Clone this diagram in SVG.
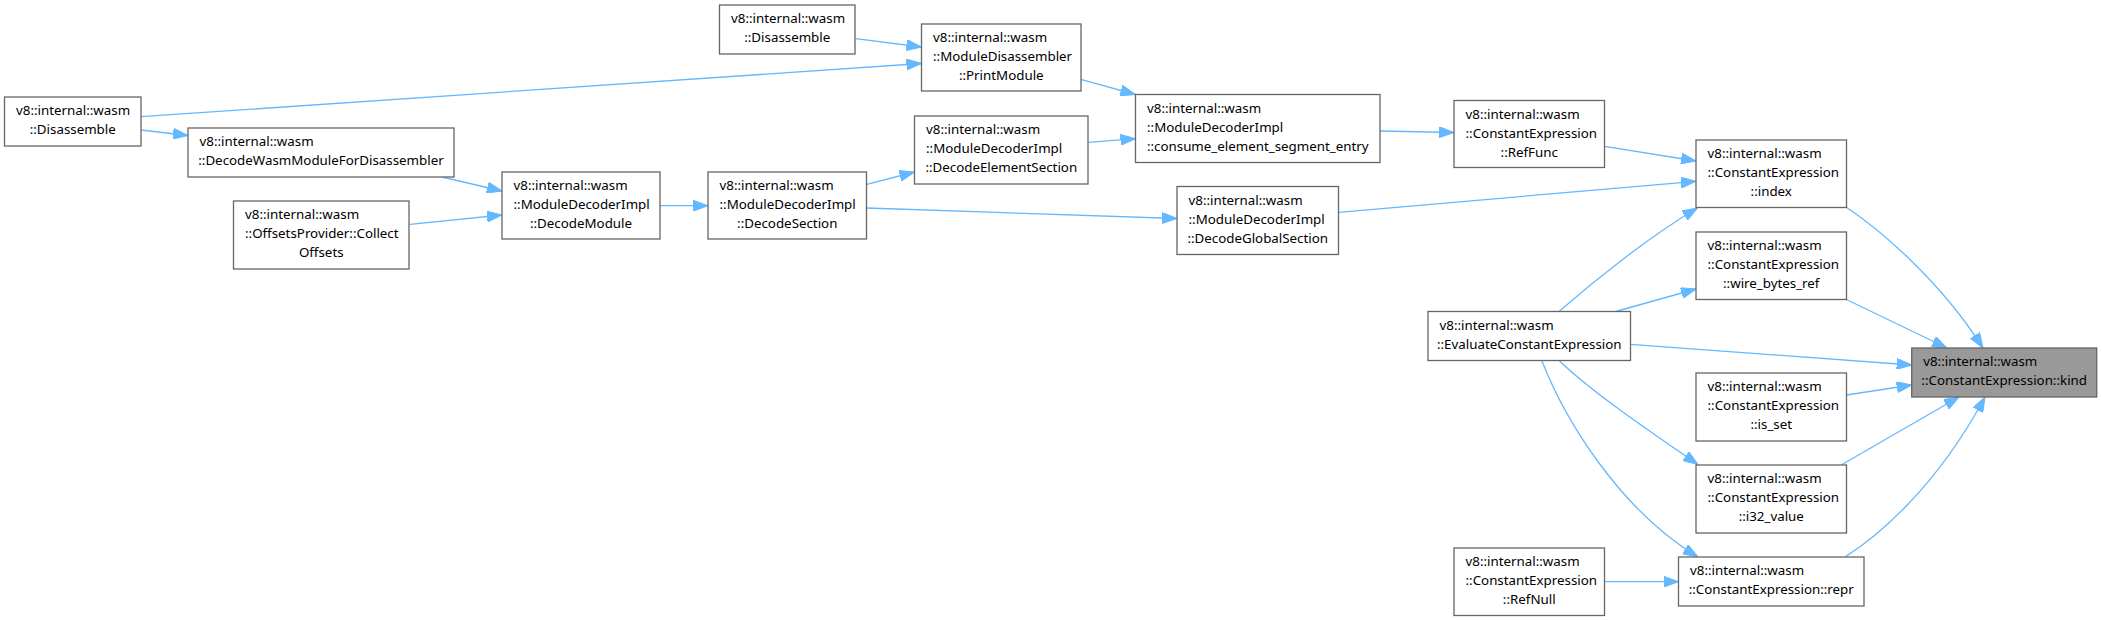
<svg xmlns="http://www.w3.org/2000/svg" width="2102" height="621" viewBox="0 0 2102 621">
<defs>
<style>
.n rect{fill:#ffffff;stroke:#666666;stroke-width:1.3}
.n.hl rect{fill:#999999}
.n text{font-family:"Noto Sans","Open Sans",sans-serif;font-size:13.33px;fill:#000000}
.e path{fill:none;stroke:#63b8ff;stroke-width:1.3;marker-end:url(#ah)}
</style>
<marker id="ah" markerUnits="userSpaceOnUse" markerWidth="15" markerHeight="11" viewBox="0 0 15 11" refX="15" refY="5.5" orient="auto">
<path d="M0,0 L15,5.5 L0,11 z" fill="#63b8ff" stroke="#63b8ff" stroke-width="1"/>
</marker>
</defs>
<rect width="2102" height="621" fill="#ffffff"/>
<g id="connectors" class="e">
<path d="M141,116.7 L921.5,63.5"/>
<path d="M141,130 L188,135.5"/>
<path d="M442,177 L502,191"/>
<path d="M410,224.3 L502,215"/>
<path d="M660,205.7 L708,205.7"/>
<path d="M855.8,38.7 L921.5,47"/>
<path d="M1080.8,79.3 L1135.5,94.5"/>
<path d="M1088.6,142.3 L1135.5,138.7"/>
<path d="M866.9,184.3 L914.5,172"/>
<path d="M866.9,208 L1177,218.5"/>
<path d="M1380,131 L1454,132.5"/>
<path d="M1604.6,146.3 L1696,161"/>
<path d="M1338.5,212.3 L1696,181.3"/>
<path d="M1559,311.5 C1595,280 1650,236 1697.5,208"/>
<path d="M1615.8,311.5 L1696,289"/>
<path d="M1630.6,344.3 L1911.7,365"/>
<path d="M1846.4,207.3 C1880,230 1940,280 1983,348"/>
<path d="M1846.4,299.5 L1947,348"/>
<path d="M1846.5,395 L1911.7,385"/>
<path d="M1842,464.5 L1959,397"/>
<path d="M1845,557 C1875,538 1935,490 1985,397"/>
<path d="M1559.5,361 C1590,390 1640,425 1698,464.5"/>
<path d="M1542,361 C1565,420 1620,510 1698,557"/>
<path d="M1604.7,581.7 L1678.5,581.7"/>
</g>
<g id="n_disassemble_l" class="n">
<rect x="4.5" y="97" width="136.5" height="49"/>
<text x="16" y="115">v8::internal::wasm</text>
<text x="72.75" y="134" text-anchor="middle">::Disassemble</text>
</g>
<g id="n_decode_wasm_module_for_disassembler" class="n">
<rect x="188" y="128" width="266" height="49"/>
<text x="199.5" y="146">v8::internal::wasm</text>
<text x="321" y="165" text-anchor="middle">::DecodeWasmModuleForDisassembler</text>
</g>
<g id="n_offsets_provider" class="n">
<rect x="233.5" y="201" width="175.5" height="68"/>
<text x="245" y="219">v8::internal::wasm</text>
<text x="245" y="238">::OffsetsProvider::Collect</text>
<text x="321.25" y="257" text-anchor="middle">Offsets</text>
</g>
<g id="n_decode_module" class="n">
<rect x="502" y="172" width="158" height="67"/>
<text x="513.5" y="190">v8::internal::wasm</text>
<text x="513.5" y="209">::ModuleDecoderImpl</text>
<text x="581" y="228" text-anchor="middle">::DecodeModule</text>
</g>
<g id="n_disassemble_t" class="n">
<rect x="719.5" y="5" width="135.5" height="49"/>
<text x="731" y="23">v8::internal::wasm</text>
<text x="787.25" y="42" text-anchor="middle">::Disassemble</text>
</g>
<g id="n_print_module" class="n">
<rect x="921.5" y="24" width="159.5" height="67"/>
<text x="933" y="42">v8::internal::wasm</text>
<text x="933" y="61">::ModuleDisassembler</text>
<text x="1001.25" y="80" text-anchor="middle">::PrintModule</text>
</g>
<g id="n_consume_element_segment_entry" class="n">
<rect x="1135.5" y="94.5" width="244.5" height="68"/>
<text x="1147" y="112.5">v8::internal::wasm</text>
<text x="1147" y="131.5">::ModuleDecoderImpl</text>
<text x="1257.75" y="150.5" text-anchor="middle">::consume_element_segment_entry</text>
</g>
<g id="n_decode_element_section" class="n">
<rect x="914.5" y="116" width="173.5" height="68"/>
<text x="926" y="134">v8::internal::wasm</text>
<text x="926" y="153">::ModuleDecoderImpl</text>
<text x="1001.25" y="172" text-anchor="middle">::DecodeElementSection</text>
</g>
<g id="n_decode_section" class="n">
<rect x="708" y="172" width="158.5" height="67"/>
<text x="719.5" y="190">v8::internal::wasm</text>
<text x="719.5" y="209">::ModuleDecoderImpl</text>
<text x="787.25" y="228" text-anchor="middle">::DecodeSection</text>
</g>
<g id="n_decode_global_section" class="n">
<rect x="1177" y="186.5" width="161.5" height="68"/>
<text x="1188.5" y="204.5">v8::internal::wasm</text>
<text x="1188.5" y="223.5">::ModuleDecoderImpl</text>
<text x="1257.75" y="242.5" text-anchor="middle">::DecodeGlobalSection</text>
</g>
<g id="n_ref_func" class="n">
<rect x="1454" y="100.5" width="150.5" height="67"/>
<text x="1465.5" y="118.5">v8::internal::wasm</text>
<text x="1465.5" y="137.5">::ConstantExpression</text>
<text x="1529.25" y="156.5" text-anchor="middle">::RefFunc</text>
</g>
<g id="n_index" class="n">
<rect x="1696" y="140" width="150.5" height="67.5"/>
<text x="1707.5" y="158">v8::internal::wasm</text>
<text x="1707.5" y="177">::ConstantExpression</text>
<text x="1771.25" y="196" text-anchor="middle">::index</text>
</g>
<g id="n_wire_bytes_ref" class="n">
<rect x="1696" y="232" width="150.5" height="67.5"/>
<text x="1707.5" y="250">v8::internal::wasm</text>
<text x="1707.5" y="269">::ConstantExpression</text>
<text x="1771.25" y="288" text-anchor="middle">::wire_bytes_ref</text>
</g>
<g id="n_evaluate_constant_expression" class="n">
<rect x="1428" y="311.5" width="202.5" height="49"/>
<text x="1439.5" y="329.5">v8::internal::wasm</text>
<text x="1529.25" y="348.5" text-anchor="middle">::EvaluateConstantExpression</text>
</g>
<g id="n_kind" class="n hl">
<rect x="1911.7" y="348" width="185" height="49"/>
<text x="1923.2" y="366">v8::internal::wasm</text>
<text x="2004.2" y="385" text-anchor="middle">::ConstantExpression::kind</text>
</g>
<g id="n_is_set" class="n">
<rect x="1696" y="373" width="150.5" height="68"/>
<text x="1707.5" y="391">v8::internal::wasm</text>
<text x="1707.5" y="410">::ConstantExpression</text>
<text x="1771.25" y="429" text-anchor="middle">::is_set</text>
</g>
<g id="n_i32_value" class="n">
<rect x="1696" y="465" width="150.5" height="68"/>
<text x="1707.5" y="483">v8::internal::wasm</text>
<text x="1707.5" y="502">::ConstantExpression</text>
<text x="1771.25" y="521" text-anchor="middle">::i32_value</text>
</g>
<g id="n_repr" class="n">
<rect x="1678.5" y="557" width="185.5" height="49"/>
<text x="1690" y="575">v8::internal::wasm</text>
<text x="1771.25" y="594" text-anchor="middle">::ConstantExpression::repr</text>
</g>
<g id="n_ref_null" class="n">
<rect x="1454" y="548" width="150.5" height="67.5"/>
<text x="1465.5" y="566">v8::internal::wasm</text>
<text x="1465.5" y="585">::ConstantExpression</text>
<text x="1529.25" y="604" text-anchor="middle">::RefNull</text>
</g>
</svg>
